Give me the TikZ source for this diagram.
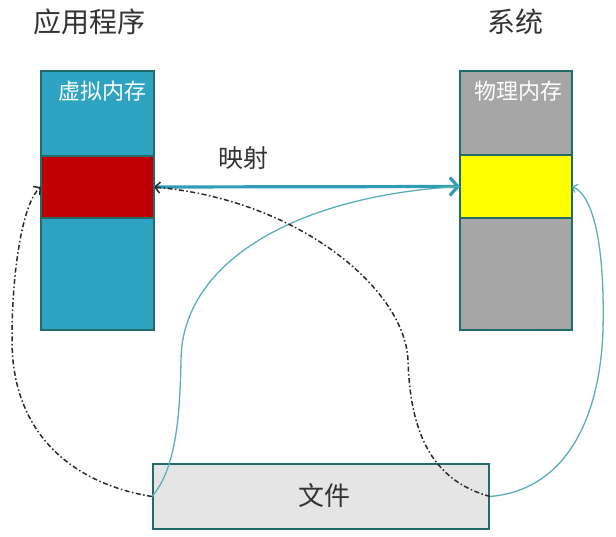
\documentclass[tikz,border=0pt]{standalone}
\usepackage{fontspec}
\setmainfont{Noto Sans CJK SC}
\usetikzlibrary{arrows.meta}
\definecolor{vcyan}{HTML}{2FA4C2}
\definecolor{edgec}{HTML}{236B6B}
\definecolor{vredc}{HTML}{C00000}
\definecolor{pyellow}{HTML}{FFFF00}
\definecolor{pgray}{HTML}{A6A6A6}
\definecolor{filefill}{HTML}{E5E5E6}
\definecolor{arrowc}{HTML}{2F9CBA}
\definecolor{thinc}{HTML}{5AAFB5}
\definecolor{txt}{HTML}{333333}
\definecolor{dashc}{HTML}{2A2A2A}
\begin{document}
\begin{tikzpicture}[x=1pt,y=-1pt,
  seg/.style={draw=edgec, line width=2pt, minimum width=113pt, inner sep=0pt, outer sep=0pt},
  title/.style={text=txt, font=\fontsize{28}{30}\selectfont},
  memlabel/.style={text=white, font=\fontsize{22}{24}\selectfont},
  dashdotline/.style={draw=dashc, line width=1.5pt, dash pattern=on 5pt off 2.5pt on 1.5pt off 2.5pt},
  thinline/.style={draw=thinc, line width=1.3pt}
]
\useasboundingbox (0,0) rectangle (616,537);
% virtual memory column
\node[seg, fill=vcyan, minimum height=85pt] (vtop) at (97.5,113.5) {};
\node[seg, fill=vredc, minimum height=62pt] (vred) at (97.5,187) {};
\node[seg, fill=vcyan, minimum height=112pt] (vbot) at (97.5,274) {};
% physical memory column
\node[seg, fill=pgray, minimum height=84pt, minimum width=112pt] (ptop) at (516,113) {};
\node[seg, fill=pyellow, minimum height=63pt, minimum width=112pt] (pyel) at (516,186.5) {};
\node[seg, fill=pgray, minimum height=112pt, minimum width=112pt] (pbot) at (516,274) {};
% file
\node[draw=edgec, line width=2pt, fill=filefill, minimum width=336pt, minimum height=65pt, inner sep=0pt] (file) at (321,496.5) {};
\node[text=txt, font=\fontsize{26}{28}\selectfont] (filelabel) at (324,496) {文件};
% labels
\node[title] (app) at (90,22) {应用程序};
\node[title] (sys) at (515,22) {系统};
\node[memlabel] (vlabel) at (102,91) {虚拟内存};
\node[memlabel] (plabel) at (518,91) {物理内存};
\node[text=txt, font=\fontsize{25}{27}\selectfont] (map) at (243,158) {映射};
% connectors
\draw[arrowc, line width=3.2pt, -{Straight Barb[length=8pt,width=18pt]}] (vred.east) -- (pyel.west);
\draw[thinline] (file.west) .. controls (175,470) and (180,420) .. (181,360)
  .. controls (182,260) and (300,195) .. (pyel.west);
\draw[thinline, -{Straight Barb[length=4pt,width=9pt]}] (file.east) .. controls (565,490) and (600,420) .. (603,330)
  .. controls (605,240) and (592,195) .. (pyel.east);
\draw[dashdotline, -{Straight Barb[length=5pt,width=11pt]}] (file.east) .. controls (430,480) and (410,430) .. (408,360)
  .. controls (405,290) and (300,200) .. (vred.east);
\draw[dashdotline, -{Straight Barb[length=5pt,width=11pt]}] (file.west) .. controls (80,485) and (12,440) .. (12,340)
  .. controls (12,260) and (25,200) .. (vred.west);
\end{tikzpicture}
\end{document}
